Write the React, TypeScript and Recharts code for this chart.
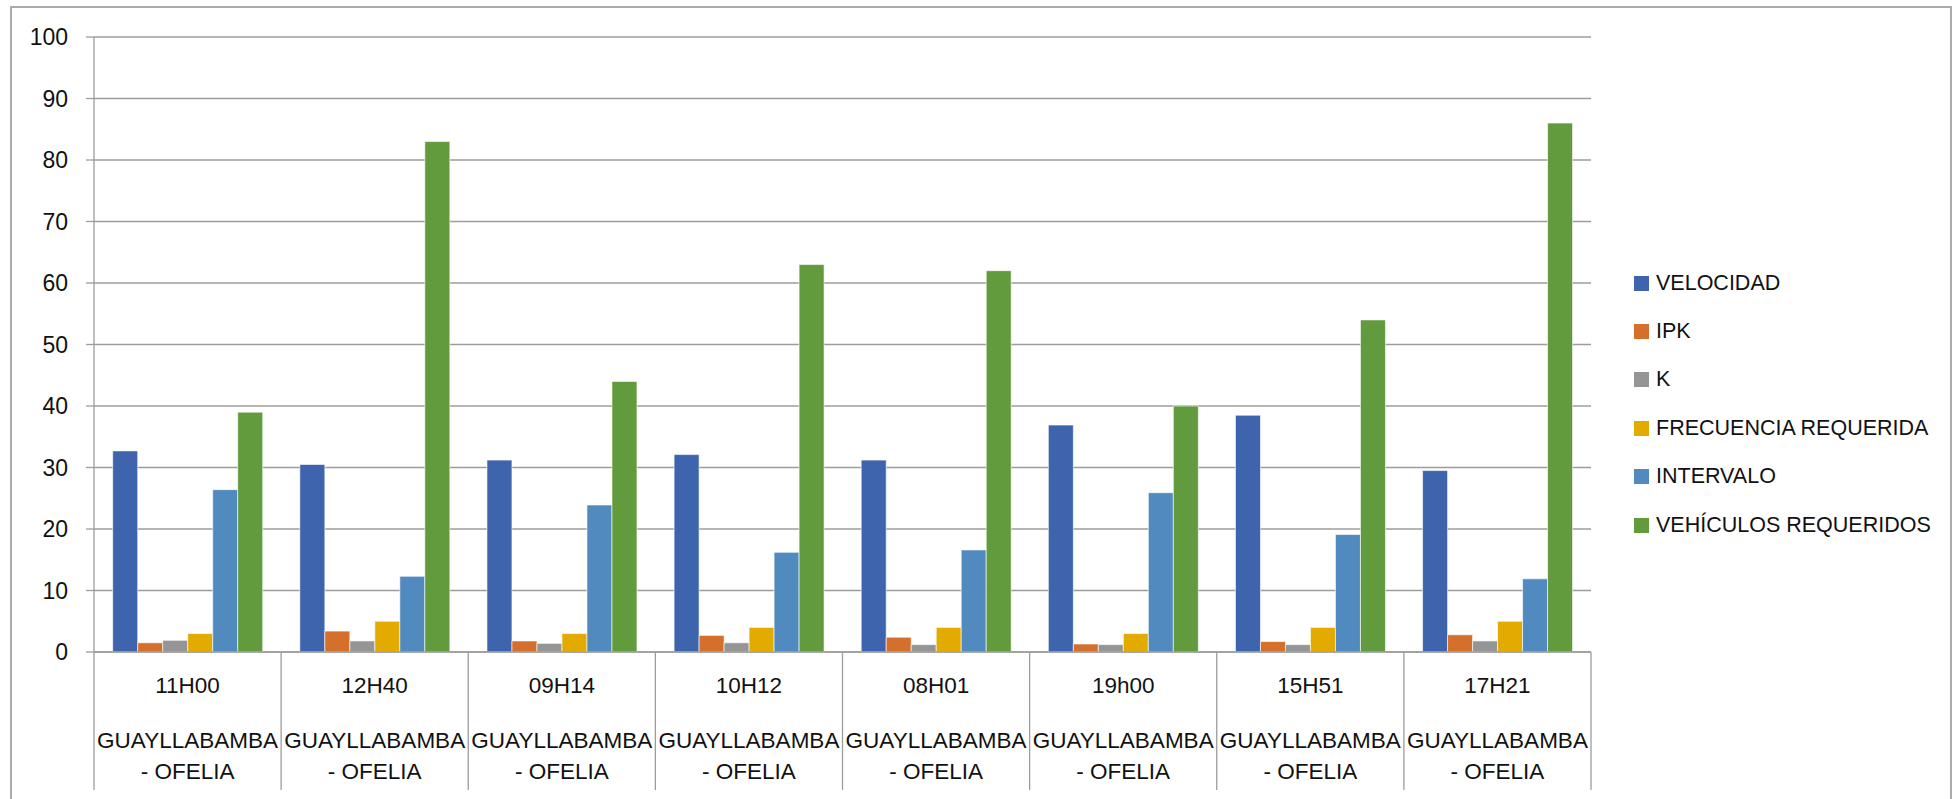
import { Bar, BarChart, CartesianGrid, Legend, XAxis, YAxis } from "recharts";

const horas = ["11H00", "12H40", "09H14", "10H12", "08H01", "19h00", "15H51", "17H21"];
const rutas = [
  "GUAYLLABAMBA - OFELIA",
  "GUAYLLABAMBA - OFELIA",
  "GUAYLLABAMBA - OFELIA",
  "GUAYLLABAMBA - OFELIA",
  "GUAYLLABAMBA - OFELIA",
  "GUAYLLABAMBA - OFELIA",
  "GUAYLLABAMBA - OFELIA",
  "GUAYLLABAMBA - OFELIA",
];

const velocidad = [32.7, 30.5, 31.2, 32.1, 31.2, 36.9, 38.5, 29.5];
const ipk = [1.5, 3.4, 1.8, 2.7, 2.4, 1.3, 1.7, 2.8];
const k = [1.9, 1.8, 1.4, 1.5, 1.2, 1.2, 1.2, 1.8];
const frecuencia = [3, 5, 3, 4, 4, 3, 4, 5];
const intervalo = [26.4, 12.3, 23.9, 16.2, 16.6, 25.9, 19.1, 11.9];
const vehiculos = [39, 83, 44, 63, 62, 40, 54, 86];

const yTicks = [0, 10, 20, 30, 40, 50, 60, 70, 80, 90, 100];

const series = [
  { key: "velocidad", name: "VELOCIDAD", color: "#3d64ad" },
  { key: "ipk", name: "IPK", color: "#d4702b" },
  { key: "k", name: "K", color: "#959595" },
  { key: "frecuencia", name: "FRECUENCIA REQUERIDA", color: "#e3ab00" },
  { key: "intervalo", name: "INTERVALO", color: "#508abe" },
  { key: "vehiculos", name: "VEHÍCULOS REQUERIDOS", color: "#629a3e" },
];

const data = horas.map((hora, i) => ({
  hora,
  ruta: rutas[i],
  velocidad: velocidad[i],
  ipk: ipk[i],
  k: k[i],
  frecuencia: frecuencia[i],
  intervalo: intervalo[i],
  vehiculos: vehiculos[i],
}));

const W = 1959;
const H = 799;
const M = { top: 37, right: 368, bottom: 0, left: 0 };
const Y_W = 94;
const X_H = 147;
const BAND = (W - M.right - Y_W) / horas.length;
const FONT = "'Liberation Sans', Arial, sans-serif";
const GRID = "#9c9c9c";
const CAT_FS = 22.5;

function CategoryTick(props: any) {
  const { x, y, payload, index } = props;
  const ruta: string = rutas[index] || "";
  const parts = ruta.split(" - ");
  const last = index === horas.length - 1;
  return (
    <g>
      <line x1={x - BAND / 2} x2={x - BAND / 2} y1={y} y2={y + 138} stroke={GRID} strokeWidth={1.3} />
      {last && <line x1={x + BAND / 2} x2={x + BAND / 2} y1={y} y2={y + 138} stroke={GRID} strokeWidth={1.3} />}
      <text x={x} y={y + 33} dy="0.36em" textAnchor="middle" fontSize={CAT_FS} fill="#111" fontFamily={FONT}>
        {payload.value}
      </text>
      <text x={x} y={y + 88} dy="0.36em" textAnchor="middle" fontSize={CAT_FS} fill="#111" fontFamily={FONT}>
        {parts[0]}
      </text>
      <text x={x} y={y + 119} dy="0.36em" textAnchor="middle" fontSize={CAT_FS} fill="#111" fontFamily={FONT}>
        {"- " + (parts[1] || "")}
      </text>
    </g>
  );
}

function Leyenda() {
  return (
    <div style={{ fontFamily: FONT, fontSize: 21.5, color: "#111" }}>
      {series.map((s) => (
        <div key={s.key} style={{ display: "flex", alignItems: "center", height: 48.4 }}>
          <span style={{ display: "inline-block", width: 15, height: 15, background: s.color, marginRight: 7 }} />
          <span>{s.name}</span>
        </div>
      ))}
    </div>
  );
}

export default function App() {
  return (
    <div style={{ position: "absolute", left: 0, top: 0, width: W, height: H, background: "#fff", overflow: "hidden" }}>
      <div
        style={{
          position: "absolute",
          left: 10,
          top: 6,
          width: 1942,
          height: 820,
          border: "2px solid #ababab",
          boxSizing: "border-box",
        }}
      />
      <BarChart
        width={W}
        height={H}
        data={data}
        margin={M}
        barCategoryGap="10%"
        barGap={0}
        style={{ position: "absolute", left: 0, top: 0 }}
      >
        <CartesianGrid vertical={false} stroke={GRID} strokeWidth={1.3} />
        <XAxis
          dataKey="hora"
          interval={0}
          height={X_H}
          tickLine={false}
          tickSize={0}
          tickMargin={0}
          axisLine={{ stroke: GRID, strokeWidth: 1.3 }}
          tick={<CategoryTick />}
        />
        <YAxis
          width={Y_W}
          domain={[0, 100]}
          ticks={yTicks}
          interval={0}
          tickSize={8}
          tickMargin={18}
          tickLine={{ stroke: GRID, strokeWidth: 1.3 }}
          axisLine={{ stroke: GRID, strokeWidth: 1.3 }}
          tick={{ fontSize: 23, fill: "#111", fontFamily: FONT }}
        />
        <Legend
          layout="horizontal"
          verticalAlign="middle"
          align="center"
          content={<Leyenda />}
          wrapperStyle={{ left: 1634, top: 259, width: 320 }}
        />
        {series.map((s) => (
          <Bar
            key={s.key}
            dataKey={s.key}
            name={s.name}
            fill={s.color}
            stroke="#ffffff"
            strokeOpacity={0.6}
            strokeWidth={1}
            isAnimationActive={false}
          />
        ))}
      </BarChart>
    </div>
  );
}
